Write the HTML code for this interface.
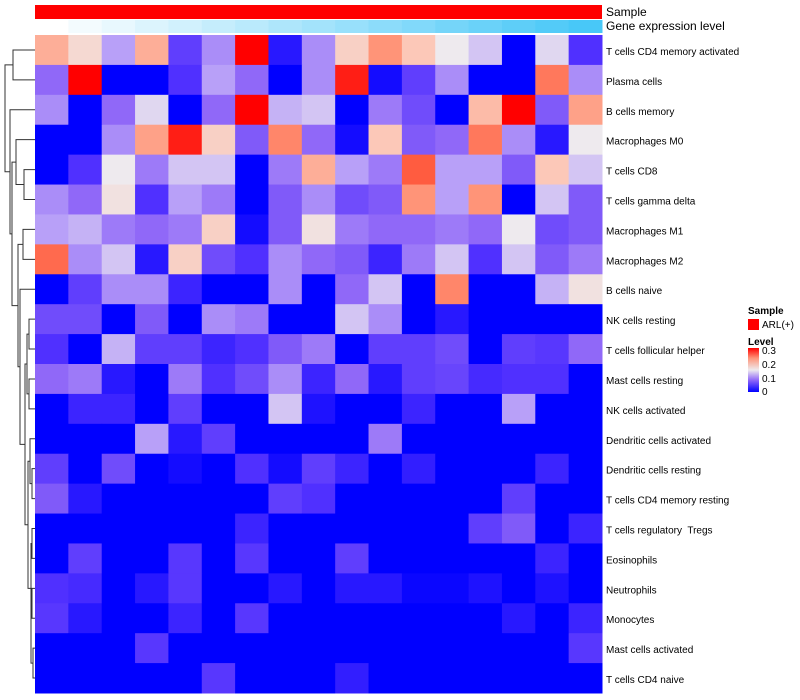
<!DOCTYPE html>
<html><head><meta charset="utf-8"><style>
body{margin:0;background:#fff;width:800px;height:700px;overflow:hidden}
svg{display:block;font-family:"Liberation Sans",sans-serif}
text{white-space:pre}
</style></head><body>
<svg id="chart" width="800" height="700">
<defs><linearGradient id="lvl" x1="0" y1="1" x2="0" y2="0">
<stop offset="0" stop-color="#0000ff"/><stop offset="0.27" stop-color="#9068f8"/><stop offset="0.5" stop-color="#eeeaee"/><stop offset="0.77" stop-color="#ff9478"/><stop offset="1" stop-color="#ff0000"/></linearGradient></defs>
<g id="dend"></g>
<g id="anno"></g>
<g id="cells"></g>
<g id="labels"></g>
<g font-size="10">
<text x="748" y="314" font-weight="bold">Sample</text>
<rect x="748" y="319" width="11" height="11" fill="#ff0000"/>
<text x="762" y="328">ARL(+)</text>
<text x="748" y="345" font-weight="bold">Level</text>
<rect x="748" y="348" width="11" height="44" fill="url(#lvl)"/>
<text x="762" y="354">0.3</text>
<text x="762" y="368">0.2</text>
<text x="762" y="382">0.1</text>
<text x="762" y="395">0</text>
</g>
</svg>
<script>
const rowNames=["T cells CD4 memory activated","Plasma cells","B cells memory","Macrophages M0","T cells CD8","T cells gamma delta","Macrophages M1","Macrophages M2","B cells naive","NK cells resting","T cells follicular helper","Mast cells resting","NK cells activated","Dendritic cells activated","Dendritic cells resting","T cells CD4 memory resting","T cells regulatory  Tregs","Eosinophils","Neutrophils","Monocytes","Mast cells activated","T cells CD4 naive"];
const geneLevel=[0,1,2,3,4,5,6,7,8,9,10,11,12,13,14,15,16];
const r1=[.21,.17,.11,.21,.05,.10,.30,.02,.10,.18,.23,.19,.15,.13,0,.14,.04];
const r2=[.08,.30,0,0,.04,.11,.08,0,.10,.29,.01,.05,.10,0,0,.25,.10];
const r3=[.10,0,.08,.14,0,.08,.30,.12,.13,0,.09,.06,0,.20,.30,.07,.22];
const r4=[0,0,.10,.22,.29,.18,.07,.24,.08,.01,.19,.07,.08,.25,.10,.02,.15];
const r5=[0,.04,.15,.09,.13,.13,0,.09,.21,.11,.09,.27,.11,.11,.07,.19,.13];
const r6=[.10,.08,.16,.04,.11,.09,0,.07,.10,.06,.07,.23,.11,.23,0,.13,.07];
const r7=[.11,.12,.09,.08,.09,.18,.01,.07,.16,.09,.08,.08,.09,.08,.15,.06,.07];
const r8=[.26,.10,.13,.02,.18,.06,.04,.10,.08,.07,.03,.09,.13,.04,.13,.07,.09];
const r9=[0,.05,.10,.10,.03,0,0,.10,0,.08,.13,0,.24,0,0,.12,.16];
const r10=[.06,.06,0,.07,0,.10,.09,0,0,.13,.10,0,.02,0,0,0,0];
const r11=[.04,0,.12,.05,.05,.03,.04,.07,.09,0,.05,.05,.06,0,.05,.045,.08];
const r12=[.08,.09,.02,0,.09,.04,.06,.10,.03,.08,.02,.05,.055,.035,.04,.04,0];
const r13=[0,.03,.03,0,.05,0,0,.13,.015,0,0,.03,0,0,.11,0,0];
const r14=[0,0,0,.11,.02,.05,0,0,0,0,.09,0,0,0,0,0,0];
const r15=[.05,0,.06,0,.01,0,.04,.01,.05,.03,0,.025,0,0,0,.03,0];
const r16=[.07,.02,0,0,0,0,0,.05,.04,0,0,0,0,0,.05,0,0];
const r17=[0,0,0,0,0,0,.03,0,0,0,0,0,0,.05,.07,0,.03];
const r18=[0,.05,0,0,.045,0,.045,0,0,.05,0,0,0,0,0,.03,0];
const r19=[.04,.035,0,.02,.045,0,0,.02,0,.02,.02,.005,.005,.015,0,.015,0];
const r20=[.045,.02,0,0,.03,0,.045,0,0,0,0,0,0,0,.02,0,.03];
const r21=[0,0,0,.045,0,0,0,0,0,0,0,0,0,0,0,0,.045];
const r22=[0,0,0,0,0,.045,0,0,0,.025,0,0,0,0,0,0,0];
const values=[r1,r2,r3,r4,r5,r6,r7,r8,r9,r10,r11,r12,r13,r14,r15,r16,r17,r18,r19,r20,r21,r22];

const NS="http://www.w3.org/2000/svg";
const X0=35,X1=602,Y0=35,Y1=693;
const nC=r1.length,nR=values.length;
const cw=(X1-X0)/nC,rh=(Y1-Y0)/nR;
const xPos=j=>X0+j*cw, yPos=i=>Y0+i*rh;
const stopsV=[0,.04,.08,.11,.15,.19,.23,.27,.30];
const stopsC=[[0,0,255],[80,48,255],[144,104,248],[184,160,248],[238,234,238],[252,200,184],[255,148,120],[255,92,64],[255,0,0]];
function col(v){v=Math.max(0,Math.min(.3,v));let k=0;while(k<stopsV.length-2&&v>stopsV[k+1])k++;
 const t=(v-stopsV[k])/(stopsV[k+1]-stopsV[k]);const a=stopsC[k],b=stopsC[k+1];
 return `rgb(${(a[0]+(b[0]-a[0])*t)|0},${(a[1]+(b[1]-a[1])*t)|0},${(a[2]+(b[2]-a[2])*t)|0})`;}
function mk(tag,a,p){const e=document.createElementNS(NS,tag);for(const k in a)e.setAttribute(k,a[k]);p.appendChild(e);return e;}
const cells=document.getElementById('cells');
values.forEach((row,i)=>row.forEach((v,j)=>{
 const r=mk('rect',{x:xPos(j),y:yPos(i),width:cw+0.5,height:rh+0.5,fill:col(v)},cells);
 
 
}));
const anno=document.getElementById('anno');
const sb=mk('rect',{x:X0,y:5,width:X1-X0,height:14,fill:'#ff0000'},anno);


const gMax=Math.max(...geneLevel);
geneLevel.forEach((g,j)=>{const t=g/gMax;
 const c=`rgb(${(255-183*t)|0},${(255-55*t)|0},${(255-7*t)|0})`;
 const r=mk('rect',{x:xPos(j),y:20,width:cw+0.5,height:13,fill:c},anno);
 
 
});
const t1=mk('text',{x:606,y:16,'font-size':12},anno);t1.textContent='Sample';


const t2=mk('text',{x:606,y:30,'font-size':12},anno);t2.textContent='Gene expression level';


const labels=document.getElementById('labels');
rowNames.forEach((n,i)=>{const t=mk('text',{x:606,y:yPos(i)+rh/2+5,'font-size':10},labels);t.textContent=n;
 
 });
const tree=[5,[13,0,1],[10,2,[12,[16,3,[24,4,5]],[18,[23,6,7],[20,8,[25,[27,[29,9,10],[29,11,12]],[28,[30,13,[32,14,15]],[31,[32,16,17],[31,[32,18,19],[33,20,21]]]]]]]]]];
const dend=document.getElementById('dend');
function draw(n){if(typeof n==='number')return {x:X0,y:yPos(n)+rh/2};
 const a=draw(n[1]),b=draw(n[2]),x=n[0];
 const p=mk('path',{d:`M${a.x},${a.y}H${x}V${b.y}H${b.x}`,fill:'none',stroke:'#333','stroke-width':1},dend);
 
 
 return {x,y:(a.y+b.y)/2};}
draw(tree);
</script>
</body></html>
